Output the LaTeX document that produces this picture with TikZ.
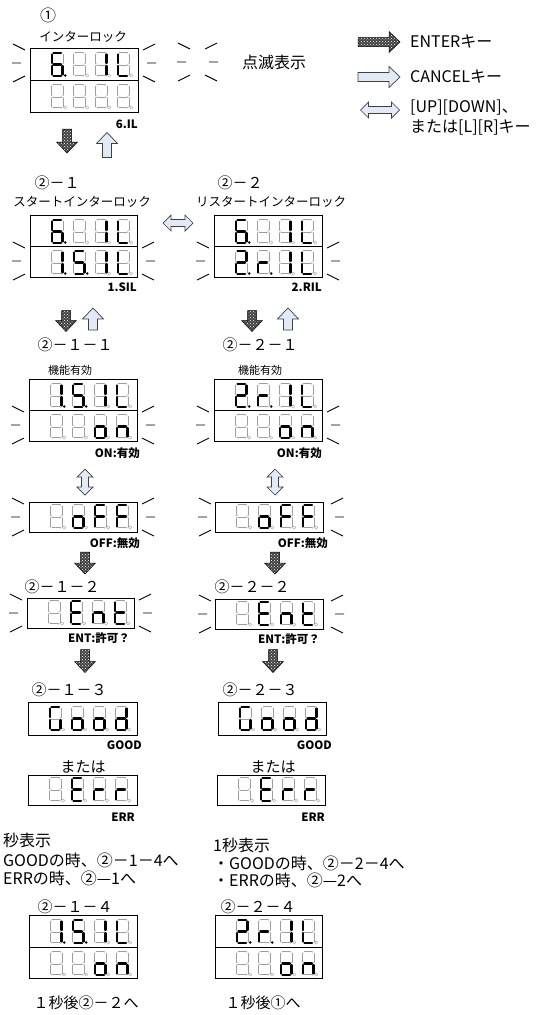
\documentclass[tikz,border=0pt]{standalone}
\usepackage{fontspec}
\setmainfont{Noto Sans CJK JP}
\usepackage{tikz}
\usetikzlibrary{calc,patterns}

\definecolor{keyblue}{RGB}{226,234,246}

\tikzset{
  segon/.style={draw=black, line width=2.3pt, line cap=round},
  segoff/.style={draw=black!38, double=white, double distance=0.8pt, line width=0.6pt, line cap=round},
  panel/.style={draw=black, line width=0.9pt},
  blink/.style={draw=black, line width=0.9pt},
  enterkey/.style={draw=black, line width=0.5pt, preaction={fill=black!75}, pattern=crosshatch dots, pattern color=white},
  cancelkey/.style={draw=black!75, line width=0.7pt, fill=keyblue},
  updownkey/.style={draw=black!75, line width=0.7pt, fill=keyblue},
  steplabel/.style={font=\fontsize{15}{15}\selectfont, inner sep=0pt},
  sublabel/.style={font=\fontsize{12.5}{13}\selectfont, inner sep=0pt},
  codelabel/.style={font=\bfseries\fontsize{11.5}{12}\selectfont, anchor=east, inner sep=0pt},
  memo/.style={font=\fontsize{16}{16}\selectfont, anchor=west, inner sep=0pt},
  keytext/.style={font=\fontsize{16}{16}\selectfont, anchor=west, inner sep=0pt},
}

\makeatletter
% one 7-segment digit, #3 = lit segments (a-g, p = point)
\newcommand{\segdigit}[3]{%
  \begin{scope}[shift={(#1,#2)}]
  \foreach \s/\xa/\ya/\xb/\yb in {a/1.5/0/9/0, b/10.5/1.5/10.5/10, c/10.5/13/10.5/21.5, d/1.5/23/9/23, e/0/13/0/21.5, f/0/1.5/0/10, g/1.5/11.5/9/11.5}{%
    \expandafter\in@\expandafter{\s}{#3}%
    \ifin@\draw[segon] (\xa,\ya) -- (\xb,\yb);\else\draw[segoff] (\xa,\ya) -- (\xb,\yb);\fi}
  \in@{p}{#3}%
  \ifin@\fill (13.3,22.5) circle (1.4);\else\draw[segoff] (13.3,22.5) circle (0.5);\fi
  \end{scope}}
\makeatother
\newcommand{\segrow}[6]{%
  \segdigit{#1+22}{#2+5}{#3}\segdigit{#1+44}{#2+5}{#4}%
  \segdigit{#1+66}{#2+5}{#5}\segdigit{#1+88}{#2+5}{#6}}
\newcommand{\blinkL}[2]{\draw[blink, shift={(#1,#2)}] (-12,-19) -- (0,-13) (-13,0) -- (-4,0) (-12,19) -- (0,13);}
\newcommand{\blinkR}[2]{\draw[blink, shift={(#1,#2)}, xscale=-1] (-12,-19) -- (0,-13) (-13,0) -- (-4,0) (-12,19) -- (0,13);}
\newcommand{\keyarrow}[5]{\path[#1, shift={(#2,#3)}, rotate=#4] (-#5/2,-4.5) -- (#5/2-11,-4.5) -- (#5/2-11,-10.5) -- (#5/2,0) -- (#5/2-11,10.5) -- (#5/2-11,4.5) -- (-#5/2,4.5) -- cycle;}
\newcommand{\twoarrow}[4]{\path[updownkey, shift={(#1,#2)}, rotate=#3] (-#4/2,0) -- (-#4/2+8,-8) -- (-#4/2+8,-3.5) -- (#4/2-8,-3.5) -- (#4/2-8,-8) -- (#4/2,0) -- (#4/2-8,8) -- (#4/2-8,3.5) -- (-#4/2+8,3.5) -- (-#4/2+8,8) -- cycle;}

\begin{document}
\begin{tikzpicture}[x=1pt, y=-1pt]
  \useasboundingbox (0,0) rectangle (538,1015);
  %\draw[color=gray, step=10, help lines, opacity=0.3] (0,0) grid (538,1015); %help grids

  % legend
  \keyarrow{enterkey}{379}{42}{0}{42}
  \keyarrow{cancelkey}{379}{77}{0}{42}
  \twoarrow{380}{110}{0}{39}
  \node[keytext] (kent) at (410,42) {ENTERキー};
  \node[keytext] (kcan) at (410,77) {CANCELキー};
  \node[keytext] (kud) at (410,108) {[UP][DOWN]、};
  \node[keytext] (klr) at (410,127) {または[L][R]キー};
  \blinkL{190}{62} \blinkR{205}{62}
  \node[keytext] (blinktxt) at (242,62) {点滅表示};

  % (1) interlock
  \node[steplabel, font=\fontsize{16}{16}\selectfont] (s1) at (48,15) {①};
  \node[sublabel] (t1) at (83,37) {インターロック};
  \draw[panel] (30,48) rectangle (138,112);
  \draw[panel] (30,80) -- (138,80);
  \segrow{30}{48}{acdefgp}{}{bc}{def}
  \segrow{30}{80}{}{}{}{}
  \blinkL{25}{63} \blinkR{143}{63}
  \node[codelabel] (c1) at (138,124) {6.IL};
  \keyarrow{enterkey}{67}{141}{-90}{24}
  \keyarrow{cancelkey}{107}{145}{90}{25}

  % (2)-1 / (2)-2
  \node[steplabel] (s21) at (57,183) {②－１};
  \node[sublabel] (t21) at (82,202) {スタートインターロック};
  \node[steplabel] (s22) at (240,183) {②－２};
  \node[sublabel] (t22) at (271,202) {リスタートインターロック};
  \draw[panel] (30,215) rectangle (137,277);
  \draw[panel] (30,246) -- (137,246);
  \segrow{30}{215}{acdefgp}{}{bc}{def}
  \segrow{30}{246}{bcp}{acdfgp}{bc}{def}
  \blinkL{25}{261} \blinkR{142}{261}
  \draw[panel] (214,215) rectangle (322,277);
  \draw[panel] (214,246) -- (322,246);
  \segrow{214}{215}{acdefgp}{}{bc}{def}
  \segrow{214}{246}{abdegp}{egp}{bc}{def}
  \blinkL{209}{261} \blinkR{327}{261}
  \twoarrow{178}{223}{0}{30}
  \node[codelabel] (c21) at (137,287) {1.SIL};
  \node[codelabel] (c22) at (322,287) {2.RIL};
  \keyarrow{enterkey}{66}{321}{-90}{21}
  \keyarrow{cancelkey}{93}{319}{90}{22}
  \keyarrow{enterkey}{252}{321}{-90}{21}
  \keyarrow{cancelkey}{288}{319}{90}{22}

  % (2)-x-1 function on / off
  \node[steplabel] (s211) at (75,345) {②－１－１};
  \node[sublabel, font=\fontsize{11}{11}\selectfont] (t211) at (70,370) {機能有効};
  \node[steplabel] (s221) at (260,345) {②－２－１};
  \node[sublabel, font=\fontsize{11}{11}\selectfont] (t221) at (260,370) {機能有効};
  \draw[panel] (29,379) rectangle (137,441);
  \draw[panel] (29,410) -- (137,410);
  \segrow{29}{379}{bcp}{acdfgp}{bc}{def}
  \segrow{29}{410}{}{}{cdeg}{ceg}
  \blinkL{24}{425} \blinkR{142}{425}
  \draw[panel] (214,379) rectangle (322,441);
  \draw[panel] (214,410) -- (322,410);
  \segrow{214}{379}{abdegp}{egp}{bc}{def}
  \segrow{214}{410}{}{}{cdeg}{ceg}
  \blinkL{209}{425} \blinkR{327}{425}
  \node[codelabel] (c211) at (140,453) {ON:有効};
  \node[codelabel] (c221) at (322,453) {ON:有効};
  \twoarrow{85}{482}{90}{26}
  \twoarrow{275}{482}{90}{26}
  \draw[panel] (29,502) rectangle (137,532);
  \segrow{29}{500}{}{cdeg}{aefg}{aefg}
  \blinkL{24}{517} \blinkR{142}{517}
  \draw[panel] (215,502) rectangle (323,532);
  \segrow{215}{500}{}{cdeg}{aefg}{aefg}
  \blinkL{211}{517} \blinkR{331}{517}
  \node[codelabel] (c212) at (140,543) {OFF:無効};
  \node[codelabel] (c222) at (328,543) {OFF:無効};
  \keyarrow{enterkey}{85}{563}{-90}{22}
  \keyarrow{enterkey}{275}{563}{-90}{22}

  % (2)-x-2 enter
  \node[steplabel] (s212) at (62,587) {②－１－２};
  \node[steplabel] (s222) at (252,587) {②－２－２};
  \draw[panel] (27,598) rectangle (134,628);
  \segrow{27}{596}{}{adefg}{ceg}{defg}
  \blinkL{22}{613} \blinkR{139}{613}
  \draw[panel] (215,599) rectangle (323,629);
  \segrow{215}{597}{}{adefg}{ceg}{defg}
  \blinkL{211}{614} \blinkR{331}{614}
  \node[codelabel] (c213) at (130,638) {ENT:許可？};
  \node[codelabel] (c223) at (320,639) {ENT:許可？};
  \keyarrow{enterkey}{85}{661}{-90}{23}
  \keyarrow{enterkey}{273}{661}{-90}{23}

  % (2)-x-3 result
  \node[steplabel] (s213) at (69,690) {②－１－３};
  \node[steplabel] (s223) at (260,690) {②－２－３};
  \draw[panel] (28,702) rectangle (137,735);
  \segrow{28}{702}{acdef}{cdeg}{cdeg}{bcdeg}
  \draw[panel] (218,702) rectangle (326,735);
  \segrow{218}{702}{acdef}{cdeg}{cdeg}{bcdeg}
  \node[codelabel] (g1) at (142,745) {GOOD};
  \node[codelabel] (g2) at (332,745) {GOOD};
  \node[steplabel] (or1) at (83,767) {または};
  \node[steplabel] (or2) at (273,767) {または};
  \draw[panel] (28,775) rectangle (137,805);
  \segrow{28}{773}{}{adefg}{eg}{eg}
  \draw[panel] (217,775) rectangle (325,805);
  \segrow{217}{773}{}{adefg}{eg}{eg}
  \node[codelabel] (r1) at (135,817) {ERR};
  \node[codelabel] (r2) at (325,817) {ERR};

  \node[memo] (m1) at (3,840) {秒表示};
  \node[memo] (m2) at (3,860) {GOODの時、②－1－4へ};
  \node[memo] (m3) at (3,878) {ERRの時、②—1へ};
  \node[memo] (m4) at (213,845) {1秒表示};
  \node[memo] (m5) at (213,863) {・GOODの時、②－2－4へ};
  \node[memo] (m6) at (213,880) {・ERRの時、②—2へ};

  % (2)-x-4
  \node[steplabel] (s214) at (75,907) {②－１－４};
  \node[steplabel] (s224) at (258,907) {②－２－４};
  \draw[panel] (29,915) rectangle (137,978);
  \draw[panel] (29,947) -- (137,947);
  \segrow{29}{915}{bcp}{acdfgp}{bc}{def}
  \segrow{29}{947}{}{}{cdeg}{ceg}
  \draw[panel] (215,915) rectangle (322,978);
  \draw[panel] (215,947) -- (322,947);
  \segrow{215}{915}{abdegp}{egp}{bc}{def}
  \segrow{215}{947}{}{}{cdeg}{ceg}
  \node[steplabel] (e1) at (86,1003) {１秒後②－２へ};
  \node[steplabel] (e2) at (263,1003) {１秒後①へ};
\end{tikzpicture}
\end{document}
